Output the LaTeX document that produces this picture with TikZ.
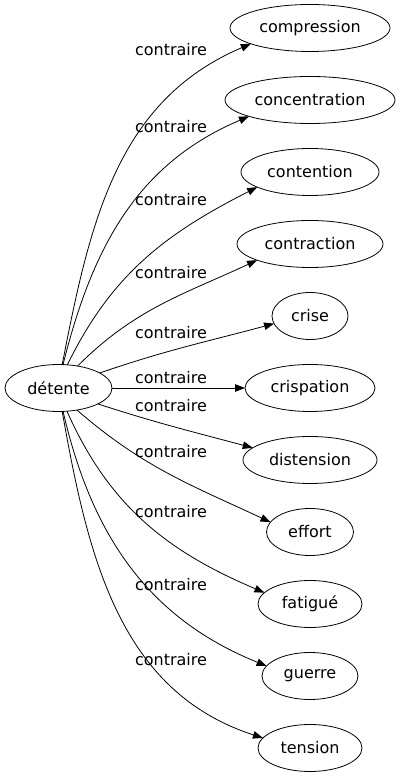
\documentclass[tikz,border=0pt]{standalone}
\usepackage{fontspec}
\setmainfont{DejaVu Sans}
\usetikzlibrary{arrows.meta,positioning,shapes.geometric}

\begin{document}
\begin{tikzpicture}[x=1pt,y=1pt,
    mot/.style={draw, ellipse, minimum height=47pt, inner sep=0pt, outer sep=0pt,
      line width=0.8pt, font=\fontsize{16pt}{19pt}\selectfont},
    lab/.style={inner sep=0pt, font=\fontsize{16pt}{19pt}\selectfont},
    fl/.style={line width=0.8pt, -{Triangle[length=10pt,width=7.5pt]}}]
    \useasboundingbox (0,0) rectangle (400,779);

      \node[mot, minimum width=107pt] (m0) at (58.5,391) {détente};

      \node[mot, minimum width=160pt] (m1) at (310,751) {compression};
      \node[mot, minimum width=170pt, below=25pt of m1] (m2) {concentration};
      \node[mot, minimum width=138pt, below=25pt of m2] (m3) {contention};
      \node[mot, minimum width=146pt, below=25pt of m3] (m4) {contraction};
      \node[mot, minimum width=76pt, below=25pt of m4] (m5) {crise};
      \node[mot, minimum width=130pt, below=25pt of m5] (m6) {crispation};
      \node[mot, minimum width=134pt, below=25pt of m6] (m7) {distension};
      \node[mot, minimum width=87pt, below=25pt of m7] (m8) {effort};
      \node[mot, minimum width=104pt, below=25pt of m8] (m9) {fatigué};
      \node[mot, minimum width=96pt, below=25pt of m9] (m10) {guerre};
      \node[mot, minimum width=104pt, below=25pt of m10] (m11) {tension};

      \node[lab] (c1) at (171,729) {contraire};
      \node[lab] (c2) at (171,652) {contraire};
      \node[lab] (c3) at (171,579) {contraire};
      \node[lab] (c4) at (171,506) {contraire};
      \node[lab] (c5) at (171,446) {contraire};
      \node[lab] (c6) at (171,401) {contraire};
      \node[lab] (c7) at (171,373) {contraire};
      \node[lab] (c8) at (171,327) {contraire};
      \node[lab] (c9) at (171,267) {contraire};
      \node[lab] (c10) at (171,194) {contraire};
      \node[lab] (c11) at (171,119) {contraire};

      \draw[fl] (m0.81) to[out=79, in=203] (m1.195);
      \draw[fl] (m0.79) to[out=76, in=203] (m2.195);
      \draw[fl] (m0.69) to[out=64, in=207] (m3.196);
      \draw[fl] (m0.49) to[out=45, in=205] (m4.197);
      \draw[fl] (m0.20) to[out=19, in=195] (m5.192);
      \draw[fl] (m0) -- (m6);
      \draw[fl] (m0.-22) to[out=-18, in=165] (m7.168);
      \draw[fl] (m0.-50) to[out=-41, in=155] (m8.166);
      \draw[fl] (m0.-70) to[out=-66, in=157] (m9.166);
      \draw[fl] (m0.-79) to[out=-77, in=158] (m10.167);
      \draw[fl] (m0.-81) to[out=-80, in=162] (m11.168);
\end{tikzpicture}
\end{document}
